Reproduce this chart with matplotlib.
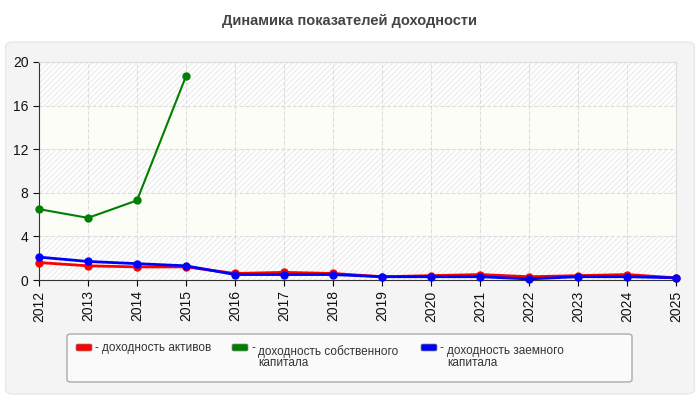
import matplotlib.pyplot as plt
import numpy as np
from matplotlib.patches import FancyBboxPatch, Rectangle

years = np.arange(2012, 2026)
assets = [1.6, 1.3, 1.2, 1.2, 0.6, 0.7, 0.6, 0.3, 0.4, 0.5, 0.3, 0.4, 0.5, 0.2]
equity = [6.5, 5.7, 7.3, 18.7]
debt = [2.1, 1.7, 1.5, 1.3, 0.5, 0.5, 0.5, 0.3, 0.3, 0.3, 0.1, 0.3, 0.3, 0.2]
labels = ["доходность активов", "доходность собственного\nкапитала", "доходность заемного\nкапитала"]
colors = ["#ff0000", "#008000", "#0000ff"]

plt.rcParams['font.family'] = ['Liberation Sans', 'DejaVu Sans']
fig = plt.figure(figsize=(7, 4), dpi=100)
fig.patch.set_facecolor('white')

# grey panel behind chart
panel = FancyBboxPatch((0.008, 0.015), 0.984, 0.88, boxstyle="round,pad=0,rounding_size=0.012",
                       transform=fig.transFigure, facecolor='#f4f4f4', edgecolor='#e8e8e8', lw=1, zorder=-5)
fig.patches.append(panel)
fig.text(0.5, 0.948, "Динамика показателей доходности", ha='center', va='center',
         fontsize=10.5, fontweight='bold', color='#444444')

ax = fig.add_axes([39/700, 1-280/400, (676-39)/700, (280-62)/400])
ax.set_zorder(2)
ax.set_facecolor('white')
ax.set_xlim(2012, 2025)
ax.set_ylim(0, 20)

# banded, hatched background
for i, y0 in enumerate(range(0, 20, 4)):
    if i % 2 == 0:
        ax.add_patch(Rectangle((2012, y0), 13, 4, facecolor='white', edgecolor='#eeeeee',
                               hatch='//////', lw=0, zorder=0))
    else:
        ax.add_patch(Rectangle((2012, y0), 13, 4, facecolor='#fdfdf7', lw=0, zorder=0))

ax.plot(years, assets, color=colors[0], lw=2, marker='o', ms=5, zorder=3, clip_on=False)
ax.plot(years[:len(equity)], equity, color=colors[1], lw=1.5, marker='o', ms=5, zorder=3, clip_on=False)
ax.plot(years, debt, color=colors[2], lw=2, marker='o', ms=5, zorder=4, clip_on=False)

ax.set_xticks(years)
ax.set_xticklabels([str(y) for y in years], rotation=90, fontsize=10, color='#111111')
ax.set_yticks(range(0, 21, 4))
ax.tick_params(axis='y', labelsize=10, colors='#111111', length=4)
ax.tick_params(axis='x', length=4)
ax.grid(True, color='#dddddd', ls='--', lw=0.8)
for s in ['top', 'right']:
    ax.spines[s].set_color('#dddddd')
for s in ['left', 'bottom']:
    ax.spines[s].set_color('#333333')

# legend box
fig.patches.append(FancyBboxPatch((67/700, 1-382/400), (632-67)/700, (382-334)/400,
                                  boxstyle="round,pad=0,rounding_size=0.006", transform=fig.transFigure,
                                  facecolor='#fafafa', edgecolor='#aaaaaa', lw=1))
lx = [76, 232, 421]
dy = [0, 3, 3]
for x, d, lab, c in zip(lx, dy, labels, colors):
    fig.patches.append(FancyBboxPatch((x/700, 1-351/400), 16/700, 7/400, boxstyle="round,pad=0,rounding_size=0.003",
                                      transform=fig.transFigure, facecolor=c, edgecolor='#888888', lw=0.5))
    fig.text((x+19)/700, 1-351/400, "-", ha='left', va='baseline', fontsize=8.5, color='#333333')
    fig.text((x+26)/700, 1-(342+d)/400, lab, ha='left', va='top', fontsize=8.5, color='#333333',
             linespacing=0.95)

fig.savefig('out.png', dpi=100)
